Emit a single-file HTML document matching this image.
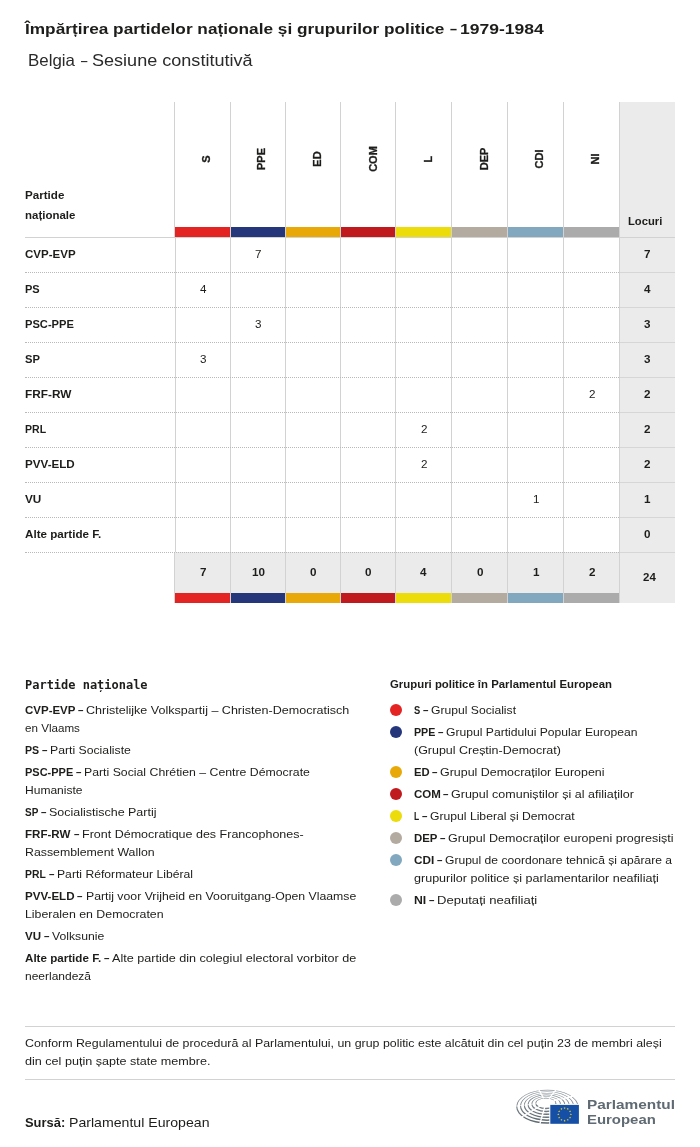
<!DOCTYPE html>
<html lang="ro"><head><meta charset="utf-8"><title>Împărțirea partidelor naționale și grupurilor politice – 1979-1984</title>
<style>
html,body{margin:0;padding:0;background:#fff}
body{width:700px;height:1147px;position:relative;overflow:hidden;font-family:"Liberation Sans",sans-serif;color:#1d1d1b}
.a{position:absolute;white-space:nowrap;line-height:1;transform-origin:0 0}
.b{font-weight:bold}
.vl{position:absolute;width:1px;background:#d2d2d2;top:102px;height:501px}
.dl{position:absolute;left:25px;width:594px;height:0;border-top:1px dotted #b9b9b9}
.sl{position:absolute;left:620px;width:55px;height:1px;background:#d6d6d6}
.bar{position:absolute;height:10px}
.gl{font-size:11px;font-weight:bold;-webkit-text-stroke:.3px #1d1d1b;transform:rotate(-90deg);text-align:center;width:60px}
.dot{position:absolute;width:12px;height:12px;border-radius:50%}
</style></head><body>

<div style="position:absolute;left:619px;top:102px;width:56px;height:501px;background:#ebebeb"></div>
<div style="position:absolute;left:174px;top:552px;width:445px;height:41px;background:#ebebeb"></div>
<div class="vl" style="left:174px"></div><div class="vl" style="left:174px;top:238px;height:314px;width:2px;background:linear-gradient(90deg,#fff 50%,#d2d2d2 50%)"></div>
<div class="vl" style="left:230px"></div>
<div class="vl" style="left:285px"></div>
<div class="vl" style="left:340px"></div>
<div class="vl" style="left:395px"></div>
<div class="vl" style="left:451px"></div>
<div class="vl" style="left:507px"></div>
<div class="vl" style="left:563px"></div>
<div class="vl" style="left:619px"></div>
<div style="position:absolute;left:25px;top:237px;width:650px;height:1px;background:#d2d2d2"></div>
<div class="bar" style="left:175px;top:227px;width:55px;background:#E32422"></div>
<div class="bar" style="left:175px;top:593px;width:55px;background:#E32422"></div>
<div class="a gl" style="left:200.7px;top:189.4px">S</div>
<div class="bar" style="left:231px;top:227px;width:54px;background:#25367B"></div>
<div class="bar" style="left:231px;top:593px;width:54px;background:#25367B"></div>
<div class="a gl" style="left:256.3px;top:189.4px">PPE</div>
<div class="bar" style="left:286px;top:227px;width:54px;background:#E8A908"></div>
<div class="bar" style="left:286px;top:593px;width:54px;background:#E8A908"></div>
<div class="a gl" style="left:311.9px;top:189.4px">ED</div>
<div class="bar" style="left:341px;top:227px;width:54px;background:#C01A1E"></div>
<div class="bar" style="left:341px;top:593px;width:54px;background:#C01A1E"></div>
<div class="a gl" style="left:367.5px;top:189.4px">COM</div>
<div class="bar" style="left:396px;top:227px;width:55px;background:#EBDC0A"></div>
<div class="bar" style="left:396px;top:593px;width:55px;background:#EBDC0A"></div>
<div class="a gl" style="left:423.1px;top:189.4px">L</div>
<div class="bar" style="left:452px;top:227px;width:55px;background:#B4ABA0"></div>
<div class="bar" style="left:452px;top:593px;width:55px;background:#B4ABA0"></div>
<div class="a gl" style="left:478.7px;top:189.4px">DEP</div>
<div class="bar" style="left:508px;top:227px;width:55px;background:#82A8C0"></div>
<div class="bar" style="left:508px;top:593px;width:55px;background:#82A8C0"></div>
<div class="a gl" style="left:534.3px;top:189.4px">CDI</div>
<div class="bar" style="left:564px;top:227px;width:55px;background:#ABABAB"></div>
<div class="bar" style="left:564px;top:593px;width:55px;background:#ABABAB"></div>
<div class="a gl" style="left:589.9px;top:189.4px">NI</div>
<div class="dl" style="top:272px"></div>
<div class="sl" style="top:272px"></div>
<div class="dl" style="top:307px"></div>
<div class="sl" style="top:307px"></div>
<div class="dl" style="top:342px"></div>
<div class="sl" style="top:342px"></div>
<div class="dl" style="top:377px"></div>
<div class="sl" style="top:377px"></div>
<div class="dl" style="top:412px"></div>
<div class="sl" style="top:412px"></div>
<div class="dl" style="top:447px"></div>
<div class="sl" style="top:447px"></div>
<div class="dl" style="top:482px"></div>
<div class="sl" style="top:482px"></div>
<div class="dl" style="top:517px"></div>
<div class="sl" style="top:517px"></div>
<div class="dl" style="top:552px"></div>
<div class="sl" style="top:552px"></div>
<div class="a b" style='left:24.79px;top:21px;font-size:15px;transform:scaleX(1.1488)'>Împărțirea partidelor naționale și grupurilor politice</div>
<div class="a b" style='left:449.50px;top:21px;font-size:15px;transform:scaleX(0.8375)'>–</div>
<div class="a b" style='left:460.37px;top:21px;font-size:15px;transform:scaleX(1.1690)'>1979-1984</div>
<div class="a" style='left:27.82px;top:52px;font-size:16.5px;transform:scaleX(1.0234);color:#2a2a2a'>Belgia</div>
<div class="a" style='left:81.30px;top:52px;font-size:16.5px;transform:scaleX(0.6900);color:#2a2a2a'>–</div>
<div class="a" style='left:91.54px;top:52px;font-size:16.5px;transform:scaleX(1.0941);color:#2a2a2a'>Sesiune constitutivă</div>
<div class="a b" style='left:24.79px;top:190px;font-size:11px;transform:scaleX(1.0548)'>Partide</div>
<div class="a b" style='left:24.80px;top:210px;font-size:11px;transform:scaleX(1.0422)'>naționale</div>
<div class="a b" style='left:627.82px;top:216px;font-size:11px;transform:scaleX(1.0187)'>Locuri</div>
<div class="a b" style='left:24.59px;top:249px;font-size:11px;transform:scaleX(1.0470)'>CVP-EVP</div>
<div class="a" style='left:255.02px;top:249px;font-size:11px;transform:scaleX(1.0600)'>7</div>
<div class="a b" style='left:644.12px;top:249px;font-size:11px;transform:scaleX(1.0600)'>7</div>
<div class="a b" style='left:24.63px;top:284px;font-size:11px;transform:scaleX(1.0024)'>PS</div>
<div class="a" style='left:200.02px;top:284px;font-size:11px;transform:scaleX(1.0600)'>4</div>
<div class="a b" style='left:643.59px;top:284px;font-size:11px;transform:scaleX(1.0600)'>4</div>
<div class="a b" style='left:24.62px;top:319px;font-size:11px;transform:scaleX(1.0130)'>PSC-PPE</div>
<div class="a" style='left:255.02px;top:319px;font-size:11px;transform:scaleX(1.0600)'>3</div>
<div class="a b" style='left:644.12px;top:319px;font-size:11px;transform:scaleX(1.0600)'>3</div>
<div class="a b" style='left:24.62px;top:354px;font-size:11px;transform:scaleX(1.0172)'>SP</div>
<div class="a" style='left:200.02px;top:354px;font-size:11px;transform:scaleX(1.0600)'>3</div>
<div class="a b" style='left:644.12px;top:354px;font-size:11px;transform:scaleX(1.0600)'>3</div>
<div class="a b" style='left:24.57px;top:389px;font-size:11px;transform:scaleX(1.0739)'>FRF-RW</div>
<div class="a" style='left:588.52px;top:389px;font-size:11px;transform:scaleX(1.0600)'>2</div>
<div class="a b" style='left:644.12px;top:389px;font-size:11px;transform:scaleX(1.0600)'>2</div>
<div class="a b" style='left:24.66px;top:424px;font-size:11px;transform:scaleX(0.9577)'>PRL</div>
<div class="a" style='left:420.52px;top:424px;font-size:11px;transform:scaleX(1.0600)'>2</div>
<div class="a b" style='left:644.12px;top:424px;font-size:11px;transform:scaleX(1.0600)'>2</div>
<div class="a b" style='left:24.59px;top:459px;font-size:11px;transform:scaleX(1.0571)'>PVV-ELD</div>
<div class="a" style='left:420.52px;top:459px;font-size:11px;transform:scaleX(1.0600)'>2</div>
<div class="a b" style='left:644.12px;top:459px;font-size:11px;transform:scaleX(1.0600)'>2</div>
<div class="a b" style='left:24.58px;top:494px;font-size:11px;transform:scaleX(1.0709)'>VU</div>
<div class="a" style='left:532.52px;top:494px;font-size:11px;transform:scaleX(1.0600)'>1</div>
<div class="a b" style='left:644.12px;top:494px;font-size:11px;transform:scaleX(1.0600)'>1</div>
<div class="a b" style='left:24.59px;top:529px;font-size:11px;transform:scaleX(1.0575)'>Alte partide F.</div>
<div class="a b" style='left:644.12px;top:529px;font-size:11px;transform:scaleX(1.0600)'>0</div>
<div class="a b" style='left:200.02px;top:567px;font-size:11px;transform:scaleX(1.0600)'>7</div>
<div class="a b" style='left:251.78px;top:567px;font-size:11px;transform:scaleX(1.0600)'>10</div>
<div class="a b" style='left:310.02px;top:567px;font-size:11px;transform:scaleX(1.0600)'>0</div>
<div class="a b" style='left:365.02px;top:567px;font-size:11px;transform:scaleX(1.0600)'>0</div>
<div class="a b" style='left:419.99px;top:567px;font-size:11px;transform:scaleX(1.0600)'>4</div>
<div class="a b" style='left:476.52px;top:567px;font-size:11px;transform:scaleX(1.0600)'>0</div>
<div class="a b" style='left:532.52px;top:567px;font-size:11px;transform:scaleX(1.0600)'>1</div>
<div class="a b" style='left:588.52px;top:567px;font-size:11px;transform:scaleX(1.0600)'>2</div>
<div class="a b" style='left:642.80px;top:572px;font-size:11px;transform:scaleX(1.0447)'>24</div>
<div class="a b" style='left:25.16px;top:679px;font-size:12px;transform:scaleX(0.9979);font-family:"DejaVu Sans Mono","Liberation Mono",monospace'>Partide naționale</div>
<div class="a b" style='left:389.80px;top:679px;font-size:11px;transform:scaleX(1.0344)'>Grupuri politice în Parlamentul European</div>
<div class="a b" style='left:24.80px;top:705px;font-size:11px;transform:scaleX(1.0448)'>CVP-EVP</div>
<div class="a b" style='left:77.70px;top:705px;font-size:11px;transform:scaleX(0.8833)'>–</div>
<div class="a" style='left:86.12px;top:705px;font-size:11.5px;transform:scaleX(1.0900)'>Christelijke Volkspartij – Christen-Democratisch</div>
<div class="a" style='left:24.89px;top:723px;font-size:11.5px;transform:scaleX(1.0097)'>en Vlaams</div>
<div class="a b" style='left:24.86px;top:745px;font-size:11px;transform:scaleX(0.9656)'>PS</div>
<div class="a b" style='left:41.50px;top:745px;font-size:11px;transform:scaleX(0.8833)'>–</div>
<div class="a" style='left:49.54px;top:745px;font-size:11.5px;transform:scaleX(1.0634)'>Parti Socialiste</div>
<div class="a b" style='left:24.83px;top:767px;font-size:11px;transform:scaleX(0.9982)'>PSC-PPE</div>
<div class="a b" style='left:75.50px;top:767px;font-size:11px;transform:scaleX(0.8833)'>–</div>
<div class="a" style='left:83.54px;top:767px;font-size:11.5px;transform:scaleX(1.0677)'>Parti Social Chrétien – Centre Démocrate</div>
<div class="a" style='left:24.86px;top:785px;font-size:11.5px;transform:scaleX(1.0471)'>Humaniste</div>
<div class="a b" style='left:24.90px;top:807px;font-size:11px;transform:scaleX(0.9066)'>SP</div>
<div class="a b" style='left:40.70px;top:807px;font-size:11px;transform:scaleX(0.8833)'>–</div>
<div class="a" style='left:49.13px;top:807px;font-size:11.5px;transform:scaleX(1.0849)'>Socialistische Partij</div>
<div class="a b" style='left:24.79px;top:829px;font-size:11px;transform:scaleX(1.0530)'>FRF-RW</div>
<div class="a b" style='left:73.70px;top:829px;font-size:11px;transform:scaleX(0.8833)'>–</div>
<div class="a" style='left:82.12px;top:829px;font-size:11.5px;transform:scaleX(1.0872)'>Front Démocratique des Francophones-</div>
<div class="a" style='left:24.84px;top:847px;font-size:11.5px;transform:scaleX(1.0709)'>Rassemblement Wallon</div>
<div class="a b" style='left:24.87px;top:869px;font-size:11px;transform:scaleX(0.9437)'>PRL</div>
<div class="a b" style='left:48.70px;top:869px;font-size:11px;transform:scaleX(0.8833)'>–</div>
<div class="a" style='left:57.15px;top:869px;font-size:11.5px;transform:scaleX(1.0581)'>Parti Réformateur Libéral</div>
<div class="a b" style='left:24.79px;top:891px;font-size:11px;transform:scaleX(1.0528)'>PVV-ELD</div>
<div class="a b" style='left:77.20px;top:891px;font-size:11px;transform:scaleX(0.8833)'>–</div>
<div class="a" style='left:86.14px;top:891px;font-size:11.5px;transform:scaleX(1.0668)'>Partij voor Vrijheid en Vooruitgang-Open Vlaamse</div>
<div class="a" style='left:24.84px;top:909px;font-size:11.5px;transform:scaleX(1.0732)'>Liberalen en Democraten</div>
<div class="a b" style='left:24.79px;top:931px;font-size:11px;transform:scaleX(1.0503)'>VU</div>
<div class="a b" style='left:43.70px;top:931px;font-size:11px;transform:scaleX(0.8833)'>–</div>
<div class="a" style='left:52.15px;top:931px;font-size:11.5px;transform:scaleX(1.0619)'>Volksunie</div>
<div class="a b" style='left:24.79px;top:953px;font-size:11px;transform:scaleX(1.0561)'>Alte partide F.</div>
<div class="a b" style='left:103.70px;top:953px;font-size:11px;transform:scaleX(0.8833)'>–</div>
<div class="a" style='left:112.12px;top:953px;font-size:11.5px;transform:scaleX(1.0951)'>Alte partide din colegiul electoral vorbitor de</div>
<div class="a" style='left:24.86px;top:971px;font-size:11.5px;transform:scaleX(1.0428)'>neerlandeză</div>
<div class="a b" style='left:413.94px;top:705px;font-size:11px;transform:scaleX(0.8507)'>S</div>
<div class="a b" style='left:422.70px;top:705px;font-size:11px;transform:scaleX(0.8833)'>–</div>
<div class="a" style='left:431.15px;top:705px;font-size:11.5px;transform:scaleX(1.0555)'>Grupul Socialist</div>
<div class="a b" style='left:413.85px;top:727px;font-size:11px;transform:scaleX(0.9711)'>PPE</div>
<div class="a b" style='left:437.70px;top:727px;font-size:11px;transform:scaleX(0.8833)'>–</div>
<div class="a" style='left:445.85px;top:727px;font-size:11.5px;transform:scaleX(1.0551)'>Grupul Partidului Popular European</div>
<div class="a" style='left:413.93px;top:745px;font-size:11.5px;transform:scaleX(1.0843)'>(Grupul Creștin-Democrat)</div>
<div class="a b" style='left:413.81px;top:767px;font-size:11px;transform:scaleX(1.0229)'>ED</div>
<div class="a b" style='left:432.30px;top:767px;font-size:11px;transform:scaleX(0.8833)'>–</div>
<div class="a" style='left:440.13px;top:767px;font-size:11.5px;transform:scaleX(1.0812)'>Grupul Democraților Europeni</div>
<div class="a b" style='left:413.79px;top:789px;font-size:11px;transform:scaleX(1.0473)'>COM</div>
<div class="a b" style='left:443.30px;top:789px;font-size:11px;transform:scaleX(0.8833)'>–</div>
<div class="a" style='left:451.12px;top:789px;font-size:11.5px;transform:scaleX(1.0881)'>Grupul comuniștilor și al afiliaților</div>
<div class="a b" style='left:414.01px;top:811px;font-size:11px;transform:scaleX(0.7705)'>L</div>
<div class="a b" style='left:422.20px;top:811px;font-size:11px;transform:scaleX(0.8833)'>–</div>
<div class="a" style='left:430.15px;top:811px;font-size:11.5px;transform:scaleX(1.0579)'>Grupul Liberal și Democrat</div>
<div class="a b" style='left:413.80px;top:833px;font-size:11px;transform:scaleX(1.0367)'>DEP</div>
<div class="a b" style='left:439.70px;top:833px;font-size:11px;transform:scaleX(0.8833)'>–</div>
<div class="a" style='left:447.72px;top:833px;font-size:11.5px;transform:scaleX(1.0888)'>Grupul Democraților europeni progresiști</div>
<div class="a b" style='left:413.78px;top:855px;font-size:11px;transform:scaleX(1.0653)'>CDI</div>
<div class="a b" style='left:436.70px;top:855px;font-size:11px;transform:scaleX(0.8833)'>–</div>
<div class="a" style='left:444.95px;top:855px;font-size:11.5px;transform:scaleX(1.0506)'>Grupul de coordonare tehnică și apărare a</div>
<div class="a" style='left:413.92px;top:873px;font-size:11.5px;transform:scaleX(1.0906)'>grupurilor politice și parlamentarilor neafiliați</div>
<div class="a b" style='left:413.74px;top:895px;font-size:11px;transform:scaleX(1.1107)'>NI</div>
<div class="a b" style='left:428.70px;top:895px;font-size:11px;transform:scaleX(0.8833)'>–</div>
<div class="a" style='left:436.69px;top:895px;font-size:11.5px;transform:scaleX(1.1363)'>Deputați neafiliați</div>
<div class="a" style='left:24.73px;top:1038px;font-size:11.5px;transform:scaleX(1.0767)'>Conform Regulamentului de procedură al Parlamentului, un grup politic este alcătuit din cel puțin 23 de membri aleși</div>
<div class="a" style='left:24.72px;top:1056px;font-size:11.5px;transform:scaleX(1.0950)'>din cel puțin șapte state membre.</div>
<div class="a b" style='left:25.30px;top:1116px;font-size:13.5px;transform:scaleX(0.9562)'>Sursă:</div>
<div class="a" style='left:68.71px;top:1116px;font-size:13.5px;transform:scaleX(1.0460)'>Parlamentul European</div>
<div class="a b" style='left:587.22px;top:1098px;font-size:13.5px;transform:scaleX(1.1392);color:#5f6a73'>Parlamentul</div>
<div class="a b" style='left:587.26px;top:1113px;font-size:13.5px;transform:scaleX(1.1053);color:#5f6a73'>European</div>
<div class="dot" style="left:390px;top:703.75px;background:#E32422"></div>
<div class="dot" style="left:390px;top:725.75px;background:#25367B"></div>
<div class="dot" style="left:390px;top:765.75px;background:#E8A908"></div>
<div class="dot" style="left:390px;top:787.75px;background:#C01A1E"></div>
<div class="dot" style="left:390px;top:809.75px;background:#EBDC0A"></div>
<div class="dot" style="left:390px;top:831.75px;background:#B4ABA0"></div>
<div class="dot" style="left:390px;top:853.75px;background:#82A8C0"></div>
<div class="dot" style="left:390px;top:893.75px;background:#ABABAB"></div>
<div style="position:absolute;left:25px;top:1026px;width:650px;height:1px;background:#d2d2d2"></div>
<div style="position:absolute;left:25px;top:1079px;width:650px;height:1px;background:#d2d2d2"></div>
<svg style="position:absolute;left:512px;top:1086px" width="70" height="42" viewBox="0 0 70 42">
<defs><linearGradient id="hg" x1="0" y1="0" x2="0" y2="1"><stop offset="0" stop-color="#8c959c"/><stop offset="1" stop-color="#5d6870"/></linearGradient></defs>
<path d="M4.20,20.80A31.15,17.00 0 1,1 66.50,20.80A31.15,17.00 0 1,1 4.20,20.80ZM5.25,20.35A30.10,15.95 0 1,0 65.45,20.35A30.10,15.95 0 1,0 5.25,20.35ZM8.00,20.15A27.05,14.75 0 1,1 62.10,20.15A27.05,14.75 0 1,1 8.00,20.15ZM9.05,19.70A26.00,13.70 0 1,0 61.05,19.70A26.00,13.70 0 1,0 9.05,19.70ZM11.80,19.50A22.95,12.50 0 1,1 57.70,19.50A22.95,12.50 0 1,1 11.80,19.50ZM12.85,19.05A21.90,11.45 0 1,0 56.65,19.05A21.90,11.45 0 1,0 12.85,19.05ZM15.60,18.85A18.85,10.25 0 1,1 53.30,18.85A18.85,10.25 0 1,1 15.60,18.85ZM16.65,18.40A17.80,9.20 0 1,0 52.25,18.40A17.80,9.20 0 1,0 16.65,18.40ZM19.40,18.20A14.75,8.00 0 1,1 48.90,18.20A14.75,8.00 0 1,1 19.40,18.20ZM20.45,17.75A13.70,6.95 0 1,0 47.85,17.75A13.70,6.95 0 1,0 20.45,17.75ZM23.20,17.55A10.65,5.75 0 1,1 44.50,17.55A10.65,5.75 0 1,1 23.20,17.55ZM24.25,17.10A9.60,4.70 0 1,0 43.45,17.10A9.60,4.70 0 1,0 24.25,17.10Z" fill="url(#hg)" fill-rule="evenodd"/>
<line x1="31.66" y1="12.39" x2="22.31" y2="-4.44" stroke="#fff" stroke-width="1.3"/>
<line x1="37.13" y1="12.55" x2="49.63" y2="-3.65" stroke="#fff" stroke-width="1.3"/>
<line x1="41.36" y1="14.88" x2="70.82" y2="8.00" stroke="#fff" stroke-width="1.2"/>
<line x1="32.75" y1="20.95" x2="27.74" y2="38.33" stroke="#fff" stroke-width="1.4"/>
<line x1="28.54" y1="19.82" x2="6.72" y2="32.69" stroke="#fff" stroke-width="1.3"/>
<line x1="26.17" y1="17.51" x2="-5.13" y2="21.17" stroke="#fff" stroke-width="0.7"/>
<rect x="37.30" y="17.90" width="29.60" height="20.90" fill="#fff"/>
<rect x="38.30" y="18.90" width="28.60" height="18.90" fill="#164fa6"/>
<polygon points="52.60,20.95 52.87,21.73 53.69,21.74 53.04,22.24 53.28,23.03 52.60,22.56 51.92,23.03 52.16,22.24 51.51,21.74 52.33,21.73" fill="#ffdd1a"/>
<polygon points="55.75,21.79 56.02,22.57 56.84,22.59 56.19,23.09 56.43,23.87 55.75,23.40 55.07,23.87 55.31,23.09 54.66,22.59 55.48,22.57" fill="#ffdd1a"/>
<polygon points="58.06,24.10 58.33,24.88 59.15,24.89 58.49,25.39 58.73,26.18 58.06,25.71 57.38,26.18 57.62,25.39 56.96,24.89 57.79,24.88" fill="#ffdd1a"/>
<polygon points="58.90,27.25 59.17,28.03 59.99,28.04 59.34,28.54 59.58,29.33 58.90,28.86 58.22,29.33 58.46,28.54 57.81,28.04 58.63,28.03" fill="#ffdd1a"/>
<polygon points="58.06,30.40 58.33,31.18 59.15,31.19 58.49,31.69 58.73,32.48 58.06,32.01 57.38,32.48 57.62,31.69 56.96,31.19 57.79,31.18" fill="#ffdd1a"/>
<polygon points="55.75,32.71 56.02,33.48 56.84,33.50 56.19,34.00 56.43,34.79 55.75,34.32 55.07,34.79 55.31,34.00 54.66,33.50 55.48,33.48" fill="#ffdd1a"/>
<polygon points="52.60,33.55 52.87,34.33 53.69,34.34 53.04,34.84 53.28,35.63 52.60,35.16 51.92,35.63 52.16,34.84 51.51,34.34 52.33,34.33" fill="#ffdd1a"/>
<polygon points="49.45,32.71 49.72,33.48 50.54,33.50 49.89,34.00 50.13,34.79 49.45,34.32 48.77,34.79 49.01,34.00 48.36,33.50 49.18,33.48" fill="#ffdd1a"/>
<polygon points="47.14,30.40 47.41,31.18 48.24,31.19 47.58,31.69 47.82,32.48 47.14,32.01 46.47,32.48 46.71,31.69 46.05,31.19 46.87,31.18" fill="#ffdd1a"/>
<polygon points="46.30,27.25 46.57,28.03 47.39,28.04 46.74,28.54 46.98,29.33 46.30,28.86 45.62,29.33 45.86,28.54 45.21,28.04 46.03,28.03" fill="#ffdd1a"/>
<polygon points="47.14,24.10 47.41,24.88 48.24,24.89 47.58,25.39 47.82,26.18 47.14,25.71 46.47,26.18 46.71,25.39 46.05,24.89 46.87,24.88" fill="#ffdd1a"/>
<polygon points="49.45,21.79 49.72,22.57 50.54,22.59 49.89,23.09 50.13,23.87 49.45,23.40 48.77,23.87 49.01,23.09 48.36,22.59 49.18,22.57" fill="#ffdd1a"/>
</svg>
</body></html>
